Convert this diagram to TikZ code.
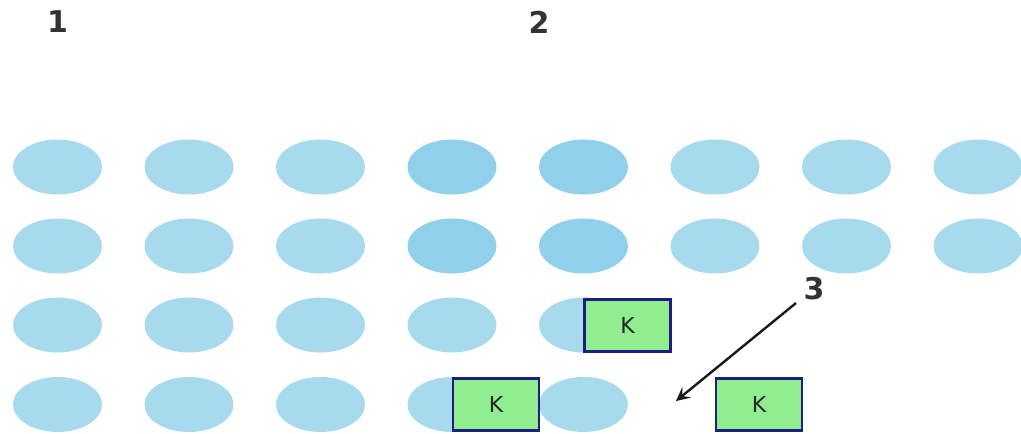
\documentclass[tikz,border=0pt]{standalone}
\usepackage{fontspec}
\setmainfont{DejaVu Sans}
\usetikzlibrary{shapes.geometric,arrows.meta}
\begin{document}
\begin{tikzpicture}[x=1pt,y=-1pt,
  cell/.style={ellipse,fill=cellblue,minimum width=89pt,minimum height=55pt,inner sep=0pt},
  dark/.style={cell,fill=cellblue2},
  kbox/.style={rectangle,draw=kborder,line width=2.5pt,fill=kgreen,minimum width=86pt,minimum height=52pt,inner sep=0pt,font=\fontsize{22}{24}\selectfont,text=black!85},
  lab/.style={font=\fontsize{30}{32}\selectfont\bfseries,text=black!80}]
\definecolor{cellblue}{HTML}{A8DAEE}
\definecolor{cellblue2}{HTML}{90D0EA}
\definecolor{kgreen}{HTML}{90EE90}
\definecolor{kborder}{HTML}{1E1E82}
\useasboundingbox (0,0) rectangle (1021,434);
\fill[white] (0,0) rectangle (1021,434);
% row 1
\node[cell] (a1) at (57.5,167) {};
\node[cell] (a2) at (189,167) {};
\node[cell] (a3) at (320.5,167) {};
\node[dark] (a4) at (452,167) {};
\node[dark] (a5) at (583.5,167) {};
\node[cell] (a6) at (715,167) {};
\node[cell] (a7) at (846.5,167) {};
\node[cell] (a8) at (978,167) {};
% row 2
\node[cell] (b1) at (57.5,246) {};
\node[cell] (b2) at (189,246) {};
\node[cell] (b3) at (320.5,246) {};
\node[dark] (b4) at (452,246) {};
\node[dark] (b5) at (583.5,246) {};
\node[cell] (b6) at (715,246) {};
\node[cell] (b7) at (846.5,246) {};
\node[cell] (b8) at (978,246) {};
% row 3
\node[cell] (c1) at (57.5,325) {};
\node[cell] (c2) at (189,325) {};
\node[cell] (c3) at (320.5,325) {};
\node[cell] (c4) at (452,325) {};
\node[cell] (c5) at (583.5,325) {};
% row 4
\node[cell] (d1) at (57.5,404.5) {};
\node[cell] (d2) at (189,404.5) {};
\node[cell] (d3) at (320.5,404.5) {};
\node[cell] (d4) at (452,404.5) {};
\node[cell] (d5) at (583.5,404.5) {};
% K boxes
\node[kbox] (k1) at (627.5,325.5) {K};
\node[kbox] (k2) at (496,404.5) {K};
\node[kbox] (k3) at (759,404.5) {K};
% labels
\node[lab] (l1) at (57.5,22) {1};
\node[lab] (l2) at (539,22) {2};
\node[lab] (l3) at (814,289) {3};
\coordinate (tgt) at (676,401);
\draw[line width=2.4pt,black!90,-{Stealth[length=14pt,width=14pt,inset=6pt]}] (796,303) -- (tgt);
\end{tikzpicture}
\end{document}
